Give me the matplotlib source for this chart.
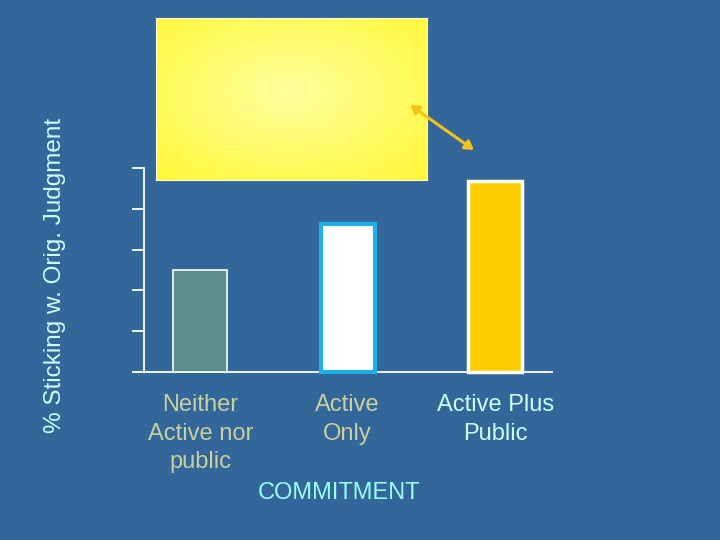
import numpy as np
import matplotlib
matplotlib.use("Agg")
import matplotlib.pyplot as plt

plt.rcParams['font.family'] = ['Liberation Sans', 'DejaVu Sans']

categories = ["Neither\nActive nor\npublic", "Active\nOnly", "Active Plus\nPublic"]
values = [2.5, 3.63, 4.67]
bar_colors = ["#5b8f8e", "#ffffff", "#ffcc00"]
edge_colors = ["#ffffff", "#1eaee8", "#ffffff"]
edge_widths = [1.2, 3.0, 2.5]
label_colors = ["#c9cf9f", "#c9cf9f", "#ccffff"]
yticks = [0, 1, 2, 3, 4, 5]
xlabel = "COMMITMENT"
ylabel = "% Sticking w. Orig. Judgment"

BG = "#336699"
W, H = 720, 540
fig = plt.figure(figsize=(7.2, 5.4), dpi=100, facecolor=BG)

ax = fig.add_axes([144 / W, (H - 372) / H, (552 - 144) / W, (372 - 168) / H])
ax.set_facecolor(BG)
x = np.arange(len(categories))
ax.bar(x, values, width=0.366, color=bar_colors, edgecolor=edge_colors,
       linewidth=edge_widths, zorder=3, clip_on=False)
ax.set_xlim(-0.381, 2.385)
ax.set_ylim(0, 5)
for s in ["top", "right"]:
    ax.spines[s].set_visible(False)
for s in ["left", "bottom"]:
    ax.spines[s].set_color("white")
    ax.spines[s].set_linewidth(1.3)
ax.set_yticks(yticks)
ax.set_yticklabels([])
ax.tick_params(axis="y", direction="out", length=8.6, width=1.3, color="white")
ax.set_xticks(x)
ax.set_xticklabels(categories, fontsize=17, linespacing=1.39)
ax.tick_params(axis="x", length=0, pad=16)
for lbl, c in zip(ax.get_xticklabels(), label_colors):
    lbl.set_color(c)
    lbl.set_va("top")

fig.text(339 / W, 1 - 493 / H, xlabel, fontsize=17, color="#99ffff",
         ha="center", va="center")
fig.text(55 / W, 1 - 275 / H, ylabel, fontsize=17.5, color="#ccffff",
         ha="center", va="center", rotation=90)

# yellow gradient box
bx = fig.add_axes([156 / W, (H - 180) / H, (427 - 156) / W, (180 - 18) / H])
nx, ny = 271, 162
gx, gy = np.meshgrid(np.linspace(0, 1, nx), np.linspace(0, 1, ny))
cx, cy = (290 - 156) / 271, (93 - 18) / 162
r = np.sqrt(((gx - cx) / 0.75) ** 2 + ((gy - cy) / 0.75) ** 2)
r = np.clip(r, 0, 1)
c0 = np.array([1.0, 1.0, 0.62])
c1 = np.array([1.0, 0.97, 0.2])
img = c0[None, None, :] * (1 - r[..., None]) + c1[None, None, :] * r[..., None]
bx.imshow(img, aspect="auto", extent=[0, 1, 1, 0])
bx.set_xticks([])
bx.set_yticks([])
for s in bx.spines.values():
    s.set_color("#ffffdd")
    s.set_linewidth(0.8)

# double arrow
fig.add_artist(matplotlib.patches.FancyArrowPatch(
    (410 / W, 1 - 105 / H), (474 / W, 1 - 150 / H), transform=fig.transFigure,
    arrowstyle="<|-|>,head_length=5,head_width=3", color="#f5c21a",
    linewidth=2.2, shrinkA=0, shrinkB=0))

fig.savefig("out.png", dpi=100, facecolor=BG)
